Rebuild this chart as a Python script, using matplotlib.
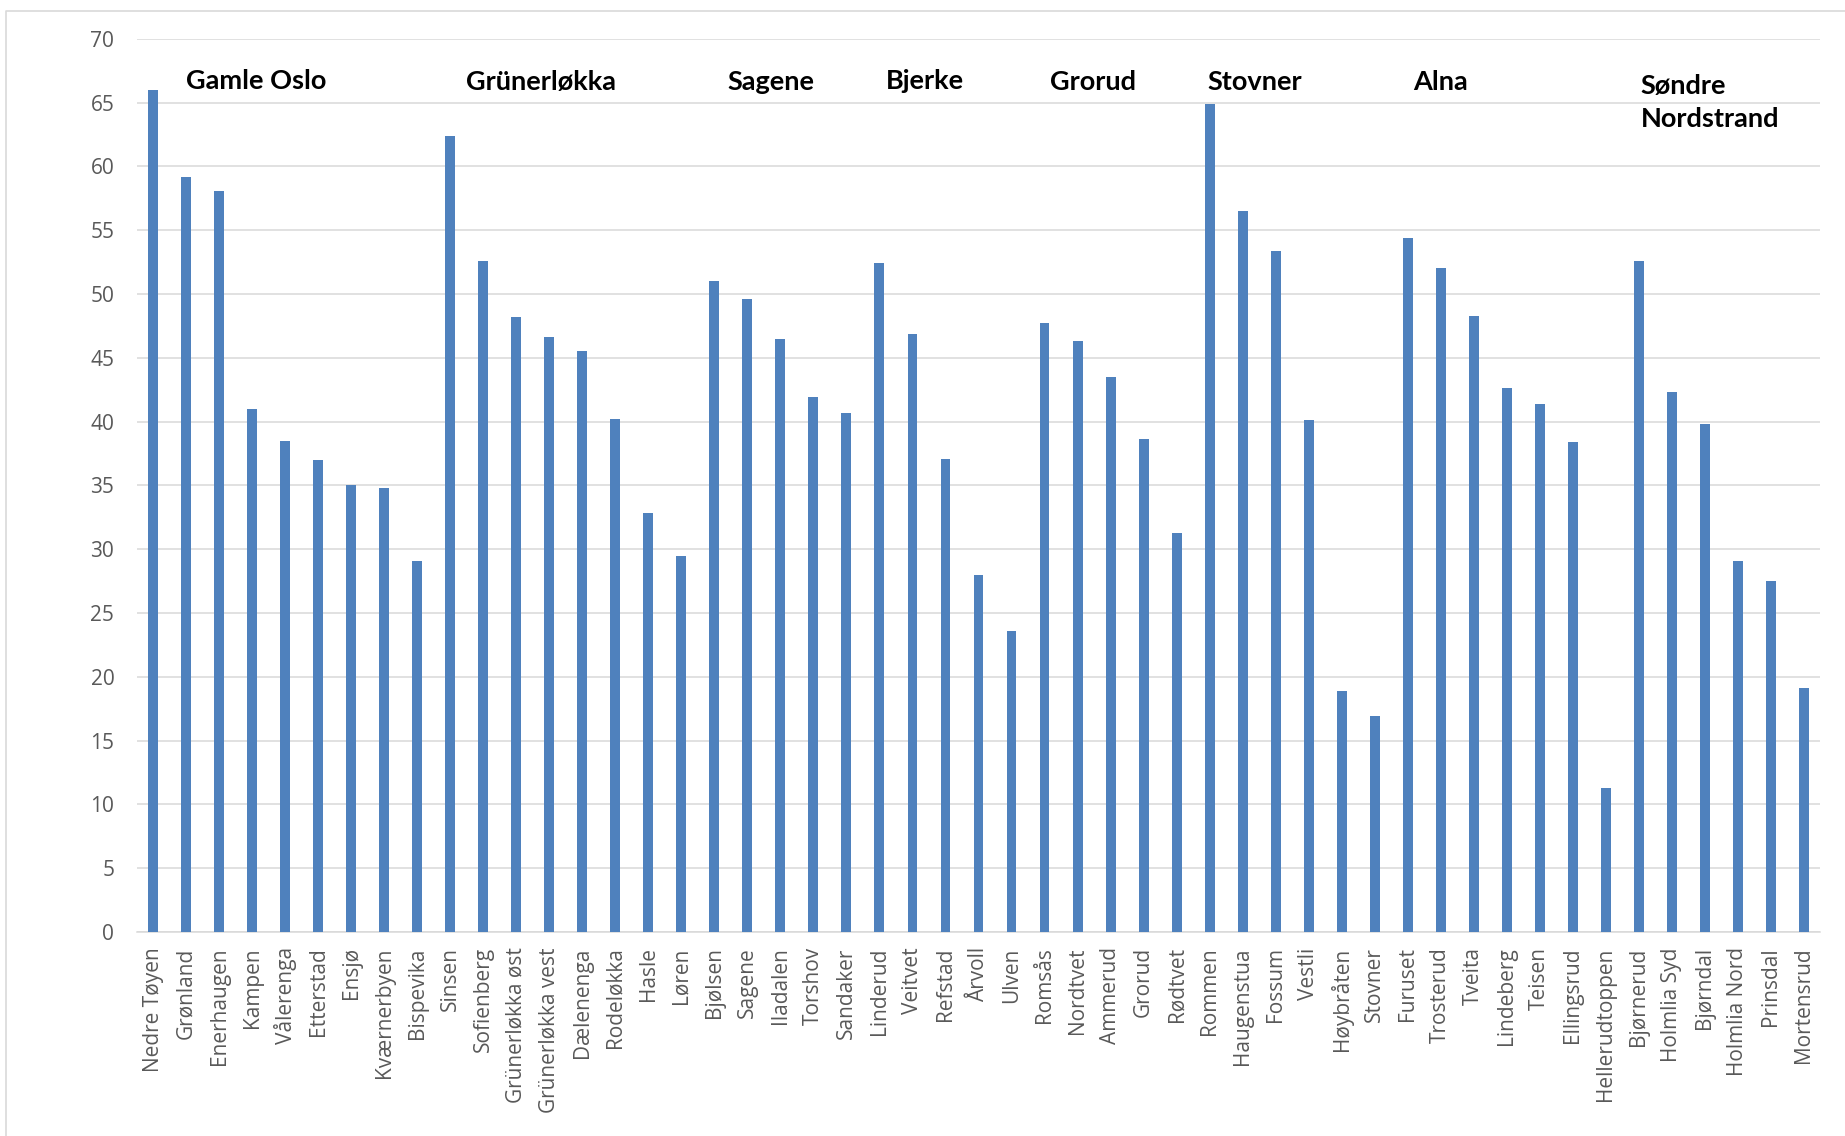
import numpy as np
import matplotlib.pyplot as plt
from matplotlib.lines import Line2D

names = ['Nedre Tøyen', 'Grønland', 'Enerhaugen', 'Kampen', 'Vålerenga', 'Etterstad', 'Ensjø',
         'Kværnerbyen', 'Bispevika',
         'Sinsen', 'Sofienberg', 'Grünerløkka øst', 'Grünerløkka vest', 'Dælenenga', 'Rodeløkka',
         'Hasle', 'Løren',
         'Bjølsen', 'Sagene', 'Iladalen', 'Torshov', 'Sandaker',
         'Linderud', 'Veitvet', 'Refstad', 'Årvoll', 'Ulven',
         'Romsås', 'Nordtvet', 'Ammerud', 'Grorud', 'Rødtvet',
         'Rommen', 'Haugenstua', 'Fossum', 'Vestli', 'Høybråten', 'Stovner',
         'Furuset', 'Trosterud', 'Tveita', 'Lindeberg', 'Teisen', 'Ellingsrud', 'Hellerudtoppen',
         'Bjørnerud', 'Holmlia Syd', 'Bjørndal', 'Holmlia Nord', 'Prinsdal', 'Mortensrud']

values = [66.0, 59.2, 58.1, 41.0, 38.5, 37.0, 35.0, 34.8, 29.1,
          62.4, 52.6, 48.2, 46.6, 45.5, 40.2, 32.8, 29.5,
          51.0, 49.6, 46.5, 41.9, 40.7,
          52.4, 46.9, 37.1, 28.0, 23.6,
          47.7, 46.3, 43.5, 38.6, 31.3,
          64.9, 56.5, 53.4, 40.1, 18.9, 16.9,
          54.4, 52.0, 48.3, 42.6, 41.4, 38.4, 11.3,
          52.6, 42.3, 39.8, 29.1, 27.5, 19.1]

# bydel headers: (text, x in category units, y)
districts = ['Gamle Oslo', 'Grünerløkka', 'Sagene', 'Bjerke', 'Grorud', 'Stovner', 'Alna',
             'Søndre\nNordstrand']
district_x = [1.0, 9.48, 17.39, 22.2, 27.16, 31.93, 38.17, 45.05]
district_y = [66.7, 66.6, 66.6, 66.7, 66.6, 66.6, 66.6, 65.0]

fig = plt.figure(figsize=(18.45, 11.36), dpi=100)
ax = fig.add_axes([0.074, 0.1796, 0.9127, 0.7863])

x = np.arange(len(names))
ax.bar(x, values, width=0.3, color='#4F81BD', zorder=3)

ax.set_xlim(-0.5, len(names) - 0.5)
ax.set_ylim(0, 70)
ax.set_yticks(np.arange(0, 71, 5))
ax.grid(axis='y', color='#D9D9D9', linewidth=1.1, zorder=0)
for s in ['top', 'right', 'left']:
    ax.spines[s].set_visible(False)
ax.spines['bottom'].set_color('#D9D9D9')
ax.spines['bottom'].set_linewidth(1.1)

ax.set_xticks(x)
ax.set_xticklabels(names, rotation=90, va='top', ha='center')
ax.tick_params(axis='both', length=0, colors='#595959', labelsize=15)
ax.tick_params(axis='x', pad=11)
ax.tick_params(axis='y', pad=16)
for lab in ax.get_xticklabels() + ax.get_yticklabels():
    lab.set_family('Open Sans')

for name, dx, dy in zip(districts, district_x, district_y):
    ax.text(dx, dy, name, ha='left', va='center', fontsize=19.5, fontweight='bold',
            family='Lato', color='black', linespacing=1.45, zorder=4)

# chart area border (only top/left visible in the crop)
W, H = 1845, 1136
fig.add_artist(Line2D([6 / W, 6 / W, 1.0], [0.0, 1 - 11 / H, 1 - 11 / H],
                      transform=fig.transFigure, color='#D9D9D9', linewidth=1.2))

fig.savefig('out.png', dpi=100, facecolor='white')
